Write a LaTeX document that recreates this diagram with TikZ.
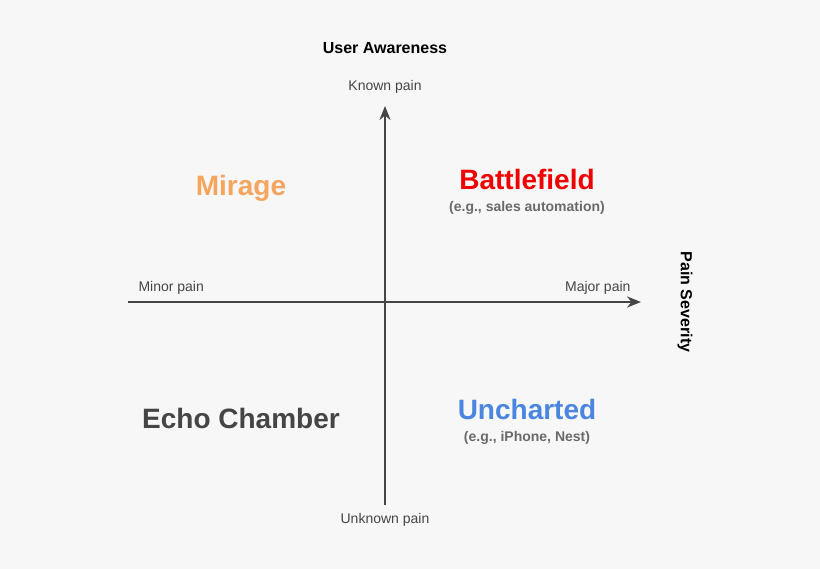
\documentclass[tikz,border=0pt]{standalone}
\usepackage{fontspec}
\setmainfont{Liberation Sans}
\usetikzlibrary{arrows.meta, positioning}
\definecolor{bgray}{HTML}{F7F7F7}
\definecolor{axisgray}{HTML}{454545}
\definecolor{miragec}{HTML}{F5A55E}
\definecolor{battlec}{HTML}{F00000}
\definecolor{unchc}{HTML}{4A86E0}
\definecolor{subgray}{HTML}{6A6A6A}
\begin{document}
\begin{tikzpicture}[x=1pt, y=-1pt,
    axis/.style={draw=axisgray, line width=2.2pt, -{Stealth[length=14pt, width=11pt]}},
    small/.style={font=\fontsize{14}{16}\selectfont, text=axisgray},
    title/.style={font=\fontsize{16}{18}\selectfont\bfseries, text=black},
    quad/.style={font=\fontsize{28}{32}\selectfont\bfseries},
    example/.style={font=\fontsize{14}{16}\selectfont\bfseries, text=subgray}]
			% Background
			\fill[bgray] (0,0) rectangle (820,569);

			% Axes
			\coordinate (Left) at (128,302);
			\coordinate (Right) at (641,302);
			\coordinate (Bottom) at (385,505);
			\coordinate (Top) at (385,106);
			\draw[axis] (Left) -- (Right);
			\draw[axis] (Bottom) -- (Top);

			% Axis labels
			\node[title] (Aware) at (385,48) {User Awareness};
			\node[small] (Known) at (385,87) {Known pain};
			\node[small] (Unknown) at (385,520) {Unknown pain};
			\node[small, anchor=west] (Minor) at (135,288) {Minor pain};
			\node[small, anchor=east] (Major) at (634,288) {Major pain};
			\node[title, rotate=-90] (Severity) at (685,302) {Pain Severity};

			% Quadrants
			\node[quad, text=miragec] (Mirage) at (241,188) {Mirage};
			\node[quad, text=battlec] (Battle) at (527,179) {Battlefield};
			\node[example] (BattleEx) at (527,208) {(e.g., sales automation)};
			\node[quad, text=axisgray] (Echo) at (241,418) {Echo Chamber};
			\node[quad, text=unchc] (Unch) at (527,409) {Uncharted};
			\node[example] (UnchEx) at (527,438) {(e.g., iPhone, Nest)};
		\end{tikzpicture}
\end{document}
